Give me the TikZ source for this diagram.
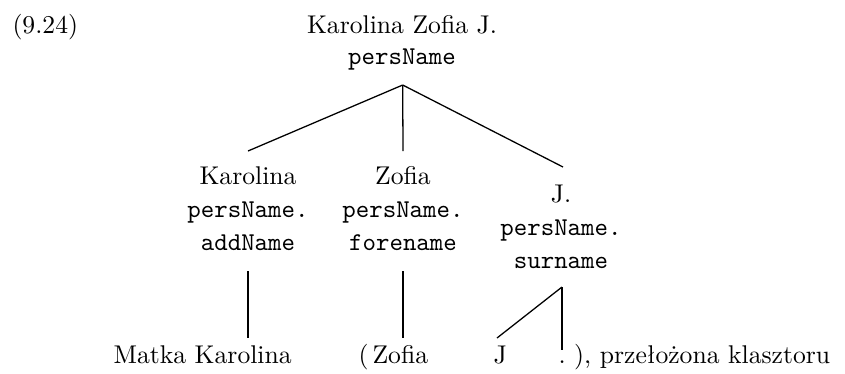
\documentclass[tikz,border=0pt]{standalone}
\begin{document}
\begin{tikzpicture}[x=0.39pt,y=-0.39pt,
  rmtext/.style={inner sep=0pt, anchor=base},
  tttext/.style={inner sep=0pt, anchor=base, font=\ttfamily},
  edge/.style={line width=0.5pt}]
\useasboundingbox (0,0) rectangle (845,373);
% top
\node[rmtext, anchor=base west] (num) at (12,33) {(9.24)};
\node[rmtext] (t1) at (402,33) {Karolina Zofia J.};
\node[tttext] (t2) at (402,64) {persName};
\coordinate (top) at (402.7,85);
% left child
\node[rmtext] (a1) at (248,184) {Karolina};
\node[tttext] (a2) at (248,217) {persName.};
\node[tttext] (a3) at (248,250) {addName};
% middle child
\node[rmtext] (b1) at (403,184) {Zofia};
\node[tttext] (b2) at (403,217) {persName.};
\node[tttext] (b3) at (403,250) {forename};
% right child
\node[rmtext] (c1) at (561,202) {J.};
\node[tttext] (c2) at (561,235) {persName.};
\node[tttext] (c3) at (561,268) {surname};
% edge end points
\coordinate (aT) at (248,151);
\coordinate (bT) at (403,151);
\coordinate (cT) at (563,167);
\coordinate (aB) at (248,271);
\coordinate (aL) at (248,338);
\coordinate (bB) at (403,271);
\coordinate (bL) at (403,338);
\coordinate (cB) at (562,287);
\coordinate (cJ) at (497,338);
\coordinate (cD) at (562,350);
% bottom text
\node[rmtext, anchor=base west] (m1) at (113,363) {Matka Karolina};
\node[rmtext, anchor=base west] (m2) at (358,363) {(};
\node[rmtext, anchor=base west] (m3) at (372,363) {Zofia};
\node[rmtext, anchor=base west] (m4) at (493,363) {J};
\node[rmtext, anchor=base west] (m5) at (558,363) {.\ ), przełożona klasztoru};
% edges
\draw[edge] (top) -- (aT);
\draw[edge] (top) -- (bT);
\draw[edge] (top) -- (cT);
\draw[edge] (aB) -- (aL);
\draw[edge] (bB) -- (bL);
\draw[edge] (cB) -- (cJ);
\draw[edge] (cB) -- (cD);
\end{tikzpicture}
\end{document}
